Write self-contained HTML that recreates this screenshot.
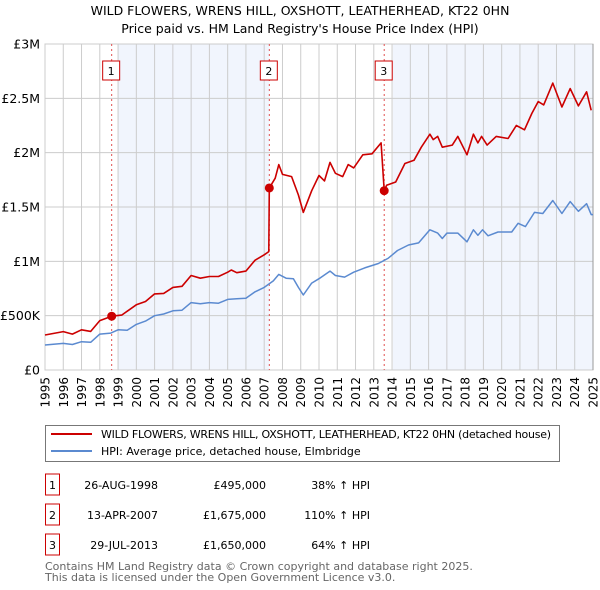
<!DOCTYPE html>
<html><head><meta charset="utf-8"><style>
body{margin:0;background:#fff;font-family:"Liberation Sans","DejaVu Sans",sans-serif;}
#wrap{position:relative;width:600px;height:590px;overflow:hidden;}
svg text{font-family:"DejaVu Sans","Liberation Sans",sans-serif;}
</style></head><body><div id="wrap">
<svg id="chart" width="600" height="590"></svg>
</div>
<script>
const years=[1995,1996,1997,1998,1999,2000,2001,2002,2003,2004,2005,2006,2007,2008,2009,2010,2011,2012,2013,2014,2015,2016,2017,2018,2019,2020,2021,2022,2023,2024,2025];
const yTicks=[0,500000,1000000,1500000,2000000,2500000,3000000];
const yTickLabels=["£0","£500K","£1M","£1.5M","£2M","£2.5M","£3M"];
const hpiDates=[1995,1996,1996.5,1997,1997.5,1998,1998.6,1999,1999.5,2000,2000.5,2001,2001.5,2002,2002.5,2003,2003.5,2004,2004.5,2005,2005.5,2006,2006.5,2007,2007.5,2007.8,2008.2,2008.6,2008.87,2009.14,2009.6,2010,2010.6,2010.9,2011.4,2011.9,2012.5,2013.25,2013.8,2014.3,2014.9,2015.45,2016.07,2016.5,2016.75,2017.0,2017.6,2018.1,2018.45,2018.7,2018.95,2019.25,2019.8,2020.55,2020.9,2021.3,2021.8,2022.25,2022.8,2023.3,2023.75,2024.2,2024.65,2024.9,2025.0];
const hpiValues=[230,245,235,260,255,330,340,370,365,420,450,500,515,545,550,620,610,620,615,650,655,660,720,760,820,880,845,840,760,690,800,840,910,870,855,900,940,980,1030,1100,1150,1170,1290,1260,1210,1260,1260,1180,1290,1240,1290,1235,1270,1270,1350,1320,1450,1440,1560,1440,1550,1460,1530,1430,1430];
const ppDates=[1995,1996,1996.5,1997,1997.5,1998,1998.65,1999.2,2000,2000.5,2001,2001.5,2002,2002.5,2003,2003.5,2004,2004.5,2005,2005.2,2005.5,2006,2006.5,2007,2007.25,2007.28,2007.6,2007.8,2008.0,2008.5,2008.87,2009.14,2009.6,2010,2010.3,2010.6,2010.9,2011.3,2011.6,2011.9,2012.4,2012.9,2013.4,2013.57,2013.7,2014.2,2014.7,2015.2,2015.6,2016.07,2016.25,2016.5,2016.75,2017.3,2017.6,2018.1,2018.45,2018.7,2018.9,2019.2,2019.7,2020.35,2020.8,2021.25,2021.65,2022.0,2022.3,2022.8,2023.3,2023.75,2024.2,2024.65,2024.9];
const ppValues=[322,353,330,370,355,455,495,505,600,630,700,705,760,770,870,845,860,860,900,920,895,910,1010,1060,1090,1675,1765,1890,1800,1780,1610,1450,1650,1790,1740,1910,1810,1780,1890,1860,1980,1990,2090,1650,1700,1730,1900,1930,2050,2170,2120,2150,2050,2070,2150,1980,2170,2090,2150,2070,2150,2130,2250,2210,2360,2470,2440,2640,2420,2590,2430,2560,2390];
const saleDates=[1998.65,2007.28,2013.57];
const saleValues=[495,1675,1650];
const saleLabels=["1","2","3"];
const saleDateText=["26-AUG-1998","13-APR-2007","29-JUL-2013"];
const salePriceText=["£495,000","£1,675,000","£1,650,000"];
const saleHpiText=["38% ↑ HPI","110% ↑ HPI","64% ↑ HPI"];

const L=45,R=593,T=44,B=370;
const xs=d=>L+(d-1995)/30*(R-L);
const ys=v=>B-v/3000000*(B-T);
const ysk=v=>ys(v*1000);
const NS="http://www.w3.org/2000/svg";
const svg=document.getElementById('chart');
function mk(tag,attrs,parent){const e=document.createElementNS(NS,tag);for(const k in attrs)e.setAttribute(k,attrs[k]);(parent||svg).appendChild(e);return e;}
function txt(s,attrs,parent){const e=mk('text',attrs,parent);e.textContent=s;return e;}

let t=txt("WILD FLOWERS, WRENS HILL, OXSHOTT, LEATHERHEAD, KT22 0HN",{x:300,y:15,'text-anchor':'middle','font-size':12.5,fill:'#000'});


t=txt("Price paid vs. HM Land Registry's House Price Index (HPI)",{x:300,y:33,'text-anchor':'middle','font-size':12.5,fill:'#000'});



let r=mk('rect',{x:L,y:T,width:R-L,height:B-T,fill:'#fff',stroke:'#ccc'});


r=mk('rect',{x:xs(1999.0),y:T,width:xs(2007.28)-xs(1999.0),height:B-T,fill:'#f1f5fd'});


r=mk('rect',{x:xs(2014.05),y:T,width:R-xs(2014.05),height:B-T,fill:'#f1f5fd'});



years.forEach(y=>{
  const g=mk('line',{x1:xs(y),x2:xs(y),y1:T,y2:B,stroke:'#cccccc','stroke-width':1});
  
  
  const x=xs(y);
  const lb=txt(String(y),{x:0,y:0,'font-size':12,fill:'#000','text-anchor':'end',transform:`translate(${x+4.5},377) rotate(-90)`});
  
  
});
yTicks.forEach((v,i)=>{
  const g=mk('line',{x1:L,x2:R,y1:ys(v),y2:ys(v),stroke:'#cccccc','stroke-width':1});
  
  
  const lb=txt(yTickLabels[i],{x:L-5,y:ys(v)+4.5,'font-size':12.5,fill:'#000','text-anchor':'end'});
  
  
});
mk('line',{x1:R,x2:R,y1:T,y2:B,stroke:'#999','stroke-width':1});

saleDates.forEach((d,i)=>{
  const l=mk('line',{x1:xs(d),x2:xs(d),y1:T,y2:B,stroke:'#e05050','stroke-width':1,'stroke-dasharray':'2,3'});
  
  
  const b=mk('rect',{x:xs(d)-9,y:61,width:17,height:19,fill:'#fff',stroke:'#cc0000','stroke-width':1});
  
  
  txt(saleLabels[i],{x:xs(d)-0.5,y:75,'font-size':11,'text-anchor':'middle',fill:'#000'});
});

let p=mk('path',{d:hpiDates.map((d,i)=>(i?'L':'M')+xs(d).toFixed(1)+','+ysk(hpiValues[i]).toFixed(1)).join(''),fill:'none',stroke:'#5b8ad0','stroke-width':1.5,'stroke-linejoin':'round'});


p=mk('path',{d:ppDates.map((d,i)=>(i?'L':'M')+xs(d).toFixed(1)+','+ysk(ppValues[i]).toFixed(1)).join(''),fill:'none',stroke:'#cc0000','stroke-width':1.6,'stroke-linejoin':'round'});


saleDates.forEach((d,i)=>{
  const c=mk('circle',{cx:xs(d),cy:ysk(saleValues[i]),r:4.5,fill:'#cc0000'});
  
  
});

// legend
let lg=mk('g',{});


mk('rect',{x:45.5,y:425.5,width:514,height:36,fill:'#fff',stroke:'#777'},lg);
mk('line',{x1:51,x2:92,y1:434,y2:434,stroke:'#cc0000','stroke-width':2},lg);
mk('line',{x1:51,x2:92,y1:451,y2:451,stroke:'#5b8ad0','stroke-width':2},lg);
t=txt("WILD FLOWERS, WRENS HILL, OXSHOTT, LEATHERHEAD, KT22 0HN (detached house)",{x:101,y:438,'font-size':11,fill:'#000',textLength:450},lg);


t=txt("HPI: Average price, detached house, Elmbridge",{x:101,y:455,'font-size':11,fill:'#000'},lg);



// table
const rowY=[485,515,545];
saleDates.forEach((d,i)=>{
  const g=mk('g',{});
  
  
  const y=rowY[i];
  mk('rect',{x:45.5,y:y-11,width:14,height:21,fill:'#fff',stroke:'#cc0000'},g);
  txt(saleLabels[i],{x:52.5,y:y+4,'font-size':11,'text-anchor':'middle',fill:'#000'},g);
  txt(saleDateText[i],{x:158,y:y+4,'font-size':11,'text-anchor':'end',fill:'#000'},g);
  txt(salePriceText[i],{x:266,y:y+4,'font-size':11,'text-anchor':'end',fill:'#000'},g);
  txt(saleHpiText[i],{x:370,y:y+4,'font-size':11,'text-anchor':'end',fill:'#000'},g);
});
t=txt("Contains HM Land Registry data © Crown copyright and database right 2025.",{x:45,y:570,'font-size':11,fill:'#666'});


t=txt("This data is licensed under the Open Government Licence v3.0.",{x:45,y:581,'font-size':11,fill:'#666'});


</script></body></html>
